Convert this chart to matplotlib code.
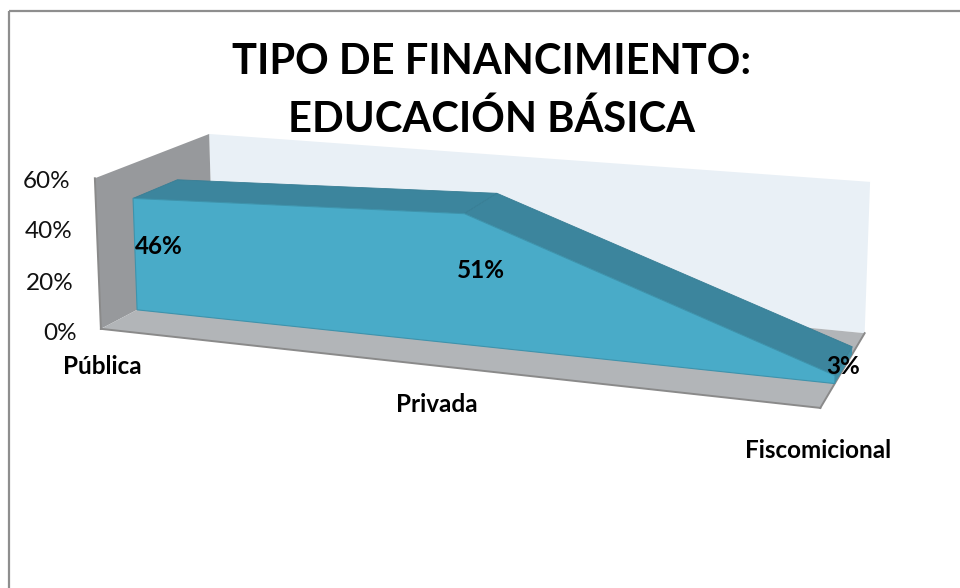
import numpy as np
import matplotlib
matplotlib.use("Agg")
import matplotlib.pyplot as plt
from matplotlib.patches import Polygon

plt.rcParams['font.family'] = ['Lato', 'DejaVu Sans']

categories = ["Pública", "Privada", "Fiscomicional"]
values = [46, 51, 3]
value_labels = ["46%", "51%", "3%"]
y_ticks = [0, 20, 40, 60]
title = "TIPO DE FINANCIMIENTO:\nEDUCACIÓN BÁSICA"

# Camera: box corners (category position, value, depth) -> picture pixels
Y_MAX = y_ticks[-1]
X_MAX = len(categories) - 1
calib = [
    ((0, 0, 0), (102, 330)), ((X_MAX, 0, 0), (820, 408)),
    ((0, Y_MAX, 0), (94, 177)),
    ((0, 0, 1), (212, 269)), ((X_MAX, 0, 1), (865, 333)),
    ((0, Y_MAX, 1), (210, 135)), ((X_MAX, Y_MAX, 1), (870, 182)),
]
A, b = [], []
for (X, Y, Z), (u, v) in calib:
    A.append([X, Y, Z, 1, 0, 0, 0, 0, -u*X, -u*Y, -u*Z]); b.append(u)
    A.append([0, 0, 0, 0, X, Y, Z, 1, -v*X, -v*Y, -v*Z]); b.append(v)
p = np.linalg.lstsq(np.array(A, float), np.array(b, float), rcond=None)[0]
P = np.append(p, 1.0).reshape(3, 4)


def proj(x, y, z):
    h = P @ np.array([x, y, z, 1.0])
    return h[0] / h[2], h[1] / h[2]


fig = plt.figure(figsize=(9.6, 5.88), dpi=100, facecolor="white")
ax = fig.add_axes([0, 0, 1, 1])
ax.set_xlim(0, 960)
ax.set_ylim(588, 0)
ax.axis("off")


def face(pts, fc, ec=None, lw=0.0, z=1):
    ax.add_patch(Polygon([proj(*q) for q in pts], closed=True, facecolor=fc,
                         edgecolor=ec if ec else fc, linewidth=lw, zorder=z))


# Chart frame
ax.plot([9, 9], [588, 10.5], color="#8E8E8E", lw=1.6, zorder=0, solid_capstyle="butt")
ax.plot([9, 960], [10.5, 10.5], color="#8E8E8E", lw=1.6, zorder=0, solid_capstyle="butt")

# Walls and floor
face([(0, 0, 1), (X_MAX, 0, 1), (X_MAX, Y_MAX, 1), (0, Y_MAX, 1)], "#E9F0F6", z=1)
face([(0, 0, 0), (0, 0, 1), (0, Y_MAX, 1), (0, Y_MAX, 0)], "#97999C", z=2)
face([(0, 0, 0), (X_MAX, 0, 0), (X_MAX, 0, 1), (0, 0, 1)], "#B2B5B8", z=2)
for a, c in [((0, 0, 0), (X_MAX, 0, 0)), ((X_MAX, 0, 0), (X_MAX, 0, 1)),
             ((0, 0, 0), (0, Y_MAX, 0))]:
    ax.plot(*zip(proj(*a), proj(*c)), color="#8A8A8A", lw=1.4, zorder=3)

# Area solid
z_front, z_back = 0.30, 0.69
xs = list(range(len(values)))
face([(xs[-1], 0, z_front), (xs[-1], values[-1], z_front),
      (xs[-1], values[-1], z_back), (xs[-1], 0, z_back)], "#3F8FA7", z=4)
for i in range(len(values) - 1):
    face([(xs[i], values[i], z_front), (xs[i + 1], values[i + 1], z_front),
          (xs[i + 1], values[i + 1], z_back), (xs[i], values[i], z_back)],
         "#3C859D", ec="#387E95", lw=0.6, z=5)
front = [(x, 0, z_front) for x in xs[::-1]] + [(x, v, z_front) for x, v in zip(xs, values)]
face(front, "#49ABC8", ec="#3E93AC", lw=0.8, z=6)

# Tick labels
tick_right = [77, 74, 72, 70]
for t, yp, xr in zip(y_ticks, [333, 283, 231, 181], tick_right):
    ax.text(xr, yp, f"{t}%", ha="right", va="center", fontsize=17.5,
            color="#111111", zorder=8)
for c, (xp, yp) in zip(categories, [(102, 367), (437, 405), (818, 450)]):
    ax.text(xp, yp, c, ha="center", va="center", fontsize=17.5, fontweight="bold",
            color="black", zorder=8)
for lab, (xp, yp) in zip(value_labels, [(159, 247), (481, 271), (843, 367)]):
    ax.text(xp, yp, lab, ha="center", va="center", fontsize=17.5, fontweight="bold",
            color="black", zorder=8)

ax.text(492, 91, title, ha="center", va="center", fontsize=30, fontweight="bold",
        color="black", linespacing=1.58, zorder=8)

fig.savefig("out.png", dpi=100)
